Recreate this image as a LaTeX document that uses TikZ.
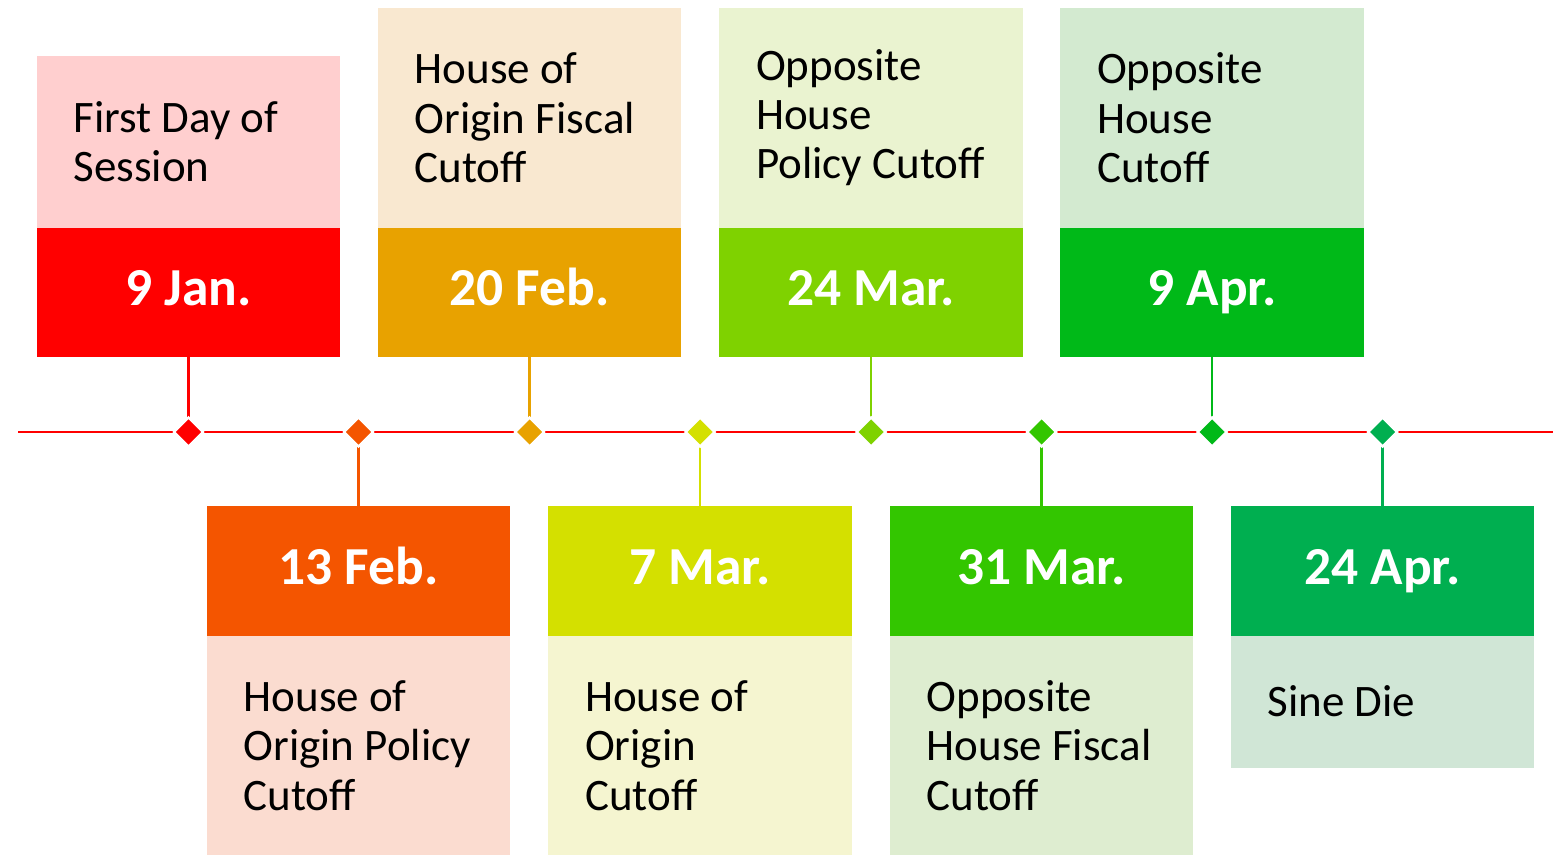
\documentclass[tikz,border=0pt]{standalone}
\usepackage{fontspec}
\setmainfont{Carlito}
\usetikzlibrary{shapes.geometric}

\definecolor{jancol}{HTML}{FF0000}
\definecolor{janlight}{HTML}{FFCFCF}
\definecolor{febAcol}{HTML}{F45500}
\definecolor{febAlight}{HTML}{FBDCD0}
\definecolor{febBcol}{HTML}{E8A200}
\definecolor{febBlight}{HTML}{F9E8D0}
\definecolor{marAcol}{HTML}{D4E000}
\definecolor{marAlight}{HTML}{F5F5D0}
\definecolor{marBcol}{HTML}{7FD200}
\definecolor{marBlight}{HTML}{EAF3D0}
\definecolor{marCcol}{HTML}{33C600}
\definecolor{marClight}{HTML}{DEEDD0}
\definecolor{aprAcol}{HTML}{00B918}
\definecolor{aprAlight}{HTML}{D3EAD0}
\definecolor{aprBcol}{HTML}{00AF50}
\definecolor{aprBlight}{HTML}{D0E6D6}

\tikzset{
  datebox/.style={rectangle, fill=#1, inner sep=0pt, outer sep=0pt,
    minimum width=3.03cm, minimum height=1.29cm, text=white,
    text height=0.74em, text depth=0em,
    font=\fontsize{15.2}{18}\selectfont\bfseries},
  notebox/.style={rectangle, fill=#1, inner sep=0pt, outer sep=0pt,
    minimum width=3.03cm},
  notetext/.style={anchor=west, align=left, inner sep=0pt,
    font=\fontsize{12.8}{14}\selectfont},
  marker/.style={diamond, fill=#1, draw=white, line width=0.7pt,
    inner sep=0pt, minimum size=0.3cm},
  stem/.style={draw=#1, line width=0.6pt}
}

\begin{document}
\begin{tikzpicture}[x=0.01cm, y=-0.01cm]

    \useasboundingbox (0,0) rectangle (1561,855);

    \coordinate (tlstart) at (18,432);
    \coordinate (tlend) at (1553,432);
    \draw[jancol, line width=0.7pt] (tlstart) -- (tlend);



    \node[datebox=jancol] (jan9) at (188.5,292.5) {9 Jan.};
    \node[notebox=janlight, minimum height=1.72cm, anchor=south] (jan9n) at (jan9.north) {};
    \node[notetext] at ([xshift=0.36cm]jan9n.west) {First Day of\\Session};

    \node[datebox=febBcol] (feb20) at (529.5,292.5) {20 Feb.};
    \node[notebox=febBlight, minimum height=2.2cm, anchor=south] (feb20n) at (feb20.north) {};
    \node[notetext] at ([xshift=0.36cm]feb20n.west) {House of\\Origin Fiscal\\Cutoff};

    \node[datebox=marBcol] (mar24) at (871,292.5) {24 Mar.};
    \node[notebox=marBlight, minimum height=2.2cm, anchor=south] (mar24n) at (mar24.north) {};
    \node[notetext] at ([xshift=0.36cm]mar24n.west) {Opposite\\House\\Policy Cutoff};

    \node[datebox=aprAcol] (apr9) at (1212,292.5) {9 Apr.};
    \node[notebox=aprAlight, minimum height=2.2cm, anchor=south] (apr9n) at (apr9.north) {};
    \node[notetext] at ([xshift=0.36cm]apr9n.west) {Opposite\\House\\Cutoff};



    \node[datebox=febAcol] (feb13) at (358.5,571) {13 Feb.};
    \node[notebox=febAlight, minimum height=2.2cm, anchor=north] (feb13n) at (feb13.south) {};
    \node[notetext] at ([xshift=0.36cm]feb13n.west) {House of\\Origin Policy\\Cutoff};

    \node[datebox=marAcol] (mar7) at (700,571) {7 Mar.};
    \node[notebox=marAlight, minimum height=2.2cm, anchor=north] (mar7n) at (mar7.south) {};
    \node[notetext] at ([xshift=0.36cm]mar7n.west) {House of\\Origin\\Cutoff};

    \node[datebox=marCcol] (mar31) at (1041.5,571) {31 Mar.};
    \node[notebox=marClight, minimum height=2.2cm, anchor=north] (mar31n) at (mar31.south) {};
    \node[notetext] at ([xshift=0.36cm]mar31n.west) {Opposite\\House Fiscal\\Cutoff};

    \node[datebox=aprBcol] (apr24) at (1382.5,571) {24 Apr.};
    \node[notebox=aprBlight, minimum height=1.32cm, anchor=north] (apr24n) at (apr24.south) {};
    \node[notetext] at ([xshift=0.36cm]apr24n.west) {Sine Die};



    \coordinate (m1) at (188.5,432);
    \coordinate (m2) at (358.5,432);
    \coordinate (m3) at (529.5,432);
    \coordinate (m4) at (700,432);
    \coordinate (m5) at (871,432);
    \coordinate (m6) at (1041.5,432);
    \coordinate (m7) at (1212,432);
    \coordinate (m8) at (1382.5,432);

    \draw[stem=jancol] (jan9.south) -- (m1);
    \draw[stem=febAcol] (feb13.north) -- (m2);
    \draw[stem=febBcol] (feb20.south) -- (m3);
    \draw[stem=marAcol] (mar7.north) -- (m4);
    \draw[stem=marBcol] (mar24.south) -- (m5);
    \draw[stem=marCcol] (mar31.north) -- (m6);
    \draw[stem=aprAcol] (apr9.south) -- (m7);
    \draw[stem=aprBcol] (apr24.north) -- (m8);

    \node[marker=jancol] (d1) at (m1) {};
    \node[marker=febAcol] (d2) at (m2) {};
    \node[marker=febBcol] (d3) at (m3) {};
    \node[marker=marAcol] (d4) at (m4) {};
    \node[marker=marBcol] (d5) at (m5) {};
    \node[marker=marCcol] (d6) at (m6) {};
    \node[marker=aprAcol] (d7) at (m7) {};
    \node[marker=aprBcol] (d8) at (m8) {};

  \end{tikzpicture}
\end{document}
